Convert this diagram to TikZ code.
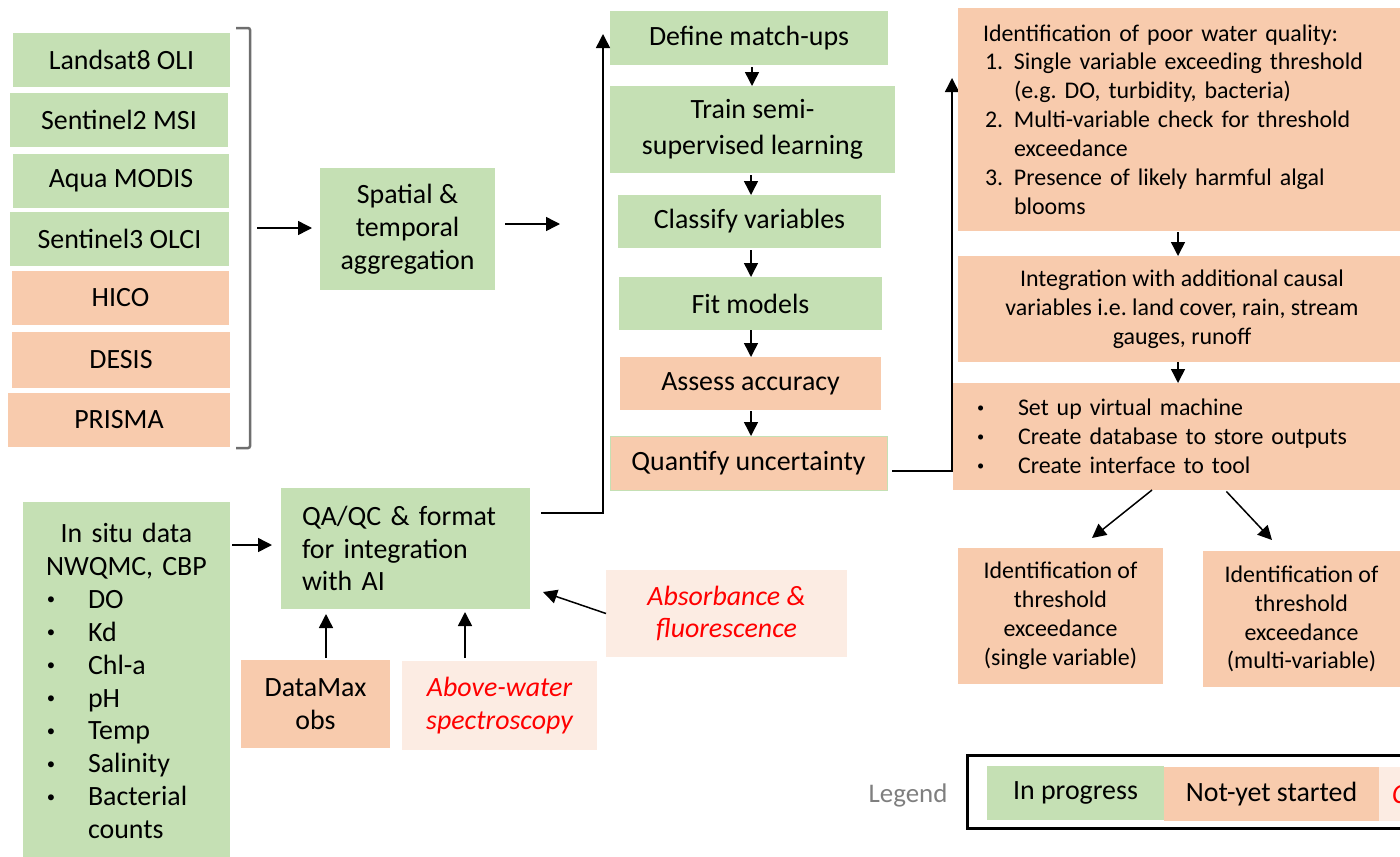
\documentclass[tikz,border=0pt]{standalone}
\usepackage{fontspec}
\usepackage{graphicx}
\setmainfont{Carlito}
\usetikzlibrary{arrows.meta}
\definecolor{grn}{HTML}{C5E0B4}
\definecolor{org}{HTML}{F8CBAD}
\definecolor{pal}{HTML}{FCECE3}
\definecolor{brk}{HTML}{6E6E6E}
\definecolor{lgray}{HTML}{7F7F7F}
\newcommand\fsA{\fontsize{28}{33}\selectfont}
\newcommand\fsB{\fontsize{24}{29}\selectfont}
% small list bullet in a box of the given width
\newcommand\blt[1]{\makebox[#1][l]{\raisebox{0.13em}{\scalebox{0.6}{\textbullet}}}}
\newcommand\num[1]{\hspace*{2bp}\makebox[29bp][l]{#1}}

\begin{document}
\begin{tikzpicture}[x=1bp,y=-1bp,
  box/.style 2 args={inner sep=0pt, outer sep=0pt, minimum width=#1bp,
    minimum height=#2bp, align=center, font=\fsA},
  gbox/.style={fill=grn},
  obox/.style={fill=org},
  pbox/.style={fill=pal, text=red, font=\fsA\itshape},
  arr/.style={line width=1.5bp, -{Triangle[length=14bp,width=14bp]}},
]
\useasboundingbox (0,0) rectangle (1400,856);
\clip (0,0) rectangle (1400,856);

% sensor sources
\node[box={217}{54}, gbox] (s1) at (121.5,60) {Landsat8 OLI};
\node[box={218}{54}, gbox] (s2) at (119,120) {Sentinel2 MSI};
\node[box={216}{54}, gbox] (s3) at (121,181) {Aqua MODIS};
\node[box={219}{54}, gbox] (s4) at (119.5,239) {Sentinel3 OLCI};
\node[box={217}{54}, obox] (s5) at (120.5,298) {HICO};
\node[box={218}{56}, obox] (s6) at (121,360) {DESIS};
\node[box={222}{54}, obox] (s7) at (119,420) {PRISMA};
\draw[brk, line width=2.5bp, rounded corners=2bp] (236,28) -- (250,28) -- (250,448) -- (236,448);
\coordinate (brkout) at (257,228);

% aggregation
\node[box={175}{122}, gbox] (agg) at (407.5,229) {Spatial \&\\temporal\\aggregation};
\draw[arr, shorten >=8bp] (brkout) -- (agg.west |- brkout);
\coordinate (aggout) at (560,224);
\draw[arr, shorten <=10bp] (agg.east |- aggout) -- (aggout);

% in situ data and QA/QC
\node[box={207}{358}, gbox, text width=187bp, align=left, inner xsep=10bp] (insitu) at (126.5,681)
  {{\centering In situ data\\NWQMC, CBP\par}
   \hspace*{14bp}\blt{41bp}DO\\
   \hspace*{14bp}\blt{41bp}Kd\\
   \hspace*{14bp}\blt{41bp}Chl-a\\
   \hspace*{14bp}\blt{41bp}pH\\
   \hspace*{14bp}\blt{41bp}Temp\\
   \hspace*{14bp}\blt{41bp}Salinity\\
   \hspace*{14bp}\blt{41bp}Bacterial\\
   \hspace*{55bp}counts};
\node[box={249}{121}, gbox, text width=207bp, align=left, inner xsep=21bp] (qa) at (405.5,548.5)
  {QA/QC \& format\\for integration\\with AI};
\draw[arr, shorten <=2bp, shorten >=9bp] (insitu.east |- 0,545) -- (qa.west |- 0,545);

\node[box={149}{88}, obox] (dmx) at (315.5,704) {DataMax\\obs};
\node[box={195}{89}, pbox] (aw) at (499.5,705.5) {Above-water\\spectroscopy};
\node[box={241}{87}, pbox] (abs) at (726.5,613.5) {Absorbance \&\\fluorescence};
\draw[arr, shorten <=2bp, shorten >=5bp] (dmx.north -| 326,0) -- (qa.south -| 326,0);
\draw[arr, shorten <=3bp, shorten >=3bp] (aw.north -| 465,0) -- (qa.south -| 465,0);
\coordinate (absin) at (543,592);
\draw[arr] (abs.west) -- (absin);

% modelling chain
\node[box={278}{54}, gbox] (dm) at (749,38) {Define match-ups};
\node[box={285}{87}, gbox] (tr) at (752.5,129.5) {Train semi-\\[3bp]supervised learning};
\node[box={263}{53}, gbox] (cl) at (749.5,221.5) {Classify variables};
\node[box={263}{53}, gbox] (fm) at (750.5,303.5) {Fit models};
\node[box={261}{53}, obox] (aa) at (750.5,383.5) {Assess accuracy};
\node[box={277}{54}, obox, draw=grn, line width=1bp] (qu) at (748.5,463) {Quantify uncertainty};
\draw[arr, shorten <=2bp] (dm.south -| 752,0) -- (tr.north -| 752,0);
\draw[arr, shorten <=2bp] (tr.south -| 751,0) -- (cl.north -| 751,0);
\draw[arr, shorten <=2bp] (cl.south -| 751,0) -- (fm.north -| 751,0);
\draw[arr] (fm.south -| 751,0) -- (aa.north -| 751,0);
\draw[arr, shorten <=1bp] (aa.south -| 751,0) -- (qu.north -| 751,0);
\coordinate (mu) at (603,34);
\draw[arr, shorten <=11bp] (qa.east |- 0,513) -| (mu);
\coordinate (wq) at (952,78);
\draw[arr, shorten <=5bp] (qu.east |- 0,471) -| (wq);

% water quality assessment
\node[box={448}{223}, obox, font=\fsB, text width=398bp, align=left, inner xsep=25bp] (poor) at (1182,119.5)
  {Identification of poor water quality:\\
   \num{1.}Single variable exceeding threshold\\
   \hspace*{31bp}(e.g.\ DO, turbidity, bacteria)\\
   \num{2.}Multi-variable check for threshold\\
   \hspace*{31bp}exceedance\\
   \num{3.}Presence of likely harmful algal\\
   \hspace*{31bp}blooms};
\node[box={448}{106}, obox, font=\fsB] (integ) at (1182,309)
  {Integration with additional causal\\variables i.e.\ land cover, rain, stream\\gauges, runoff};
\node[box={453}{107}, obox, font=\fsB, text width=405bp, align=left, inner xsep=24bp] (setup) at (1179.5,436.5)
  {\blt{41bp}Set up virtual machine\\
   \blt{41bp}Create database to store outputs\\
   \blt{41bp}Create interface to tool};
\node[box={205}{136}, obox, font=\fsB] (t1) at (1060.5,616)
  {Identification of\\threshold\\exceedance\\(single variable)};
\node[box={197}{136}, obox, font=\fsB] (t2) at (1301.5,619)
  {Identification of\\threshold\\exceedance\\(multi-variable)};
\draw[arr, shorten <=1bp] (poor.south -| 1178,0) -- (integ.north -| 1178,0);
\draw[arr] (integ.south -| 1178,0) -- (setup.north -| 1178,0);
\coordinate (t1in) at (1092,538);
\draw[arr] (setup.south -| 1152,0) -- (t1in);
\coordinate (t2in) at (1272,540);
\draw[arr, shorten <=2bp] (setup.south -| 1225,0) -- (t2in);

% legend
\node[inner sep=0pt, text=lgray, font=\fontsize{27}{32}\selectfont] (leg) at (908,795) {Legend};
\node[draw=black, line width=3bp, minimum width=453bp, minimum height=73bp, inner sep=0pt] (legbox) at (1193.5,791.5) {};
\node[box={177}{54}, gbox] (lg1) at (1075.5,793) {In progress};
\node[box={215}{54}, obox] (lg2) at (1271.5,794) {Not-yet started};
\node[box={40}{54}, fill=pal] (lg3) at (1399,794) {};
\node[anchor=west, inner sep=0pt, text=red, font=\fsA\itshape] (lgc) at (1392,795) {C};
\end{tikzpicture}
\end{document}
